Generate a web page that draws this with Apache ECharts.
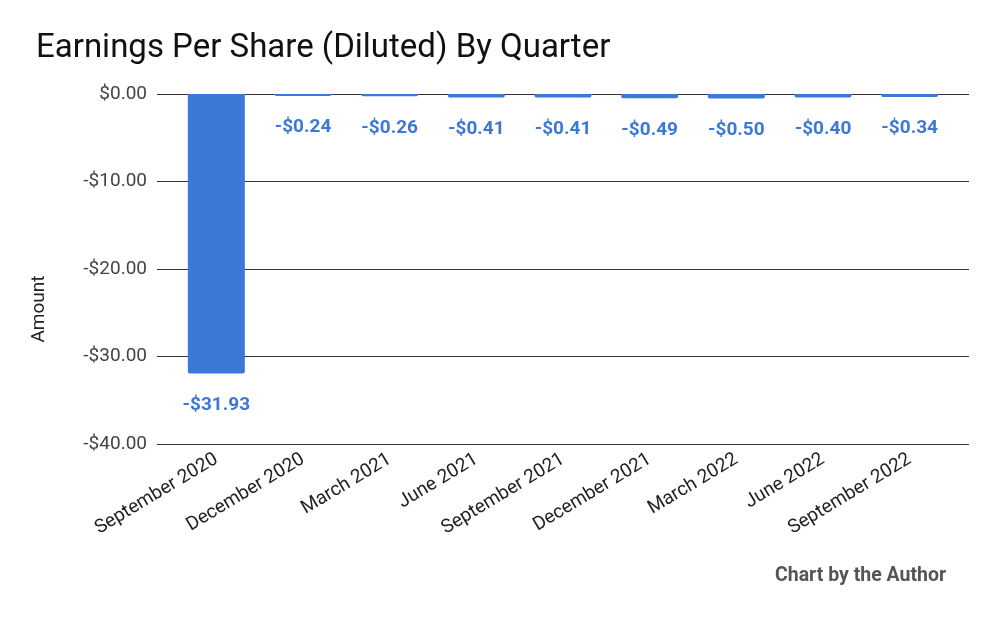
<!DOCTYPE html>
<html>
<head>
<meta charset="utf-8">
<script src="https://cdn.jsdelivr.net/npm/echarts@6/dist/echarts.min.js"></script>
<style>
  html, body { margin: 0; padding: 0; background: #fff; }
  #chart { width: 1000px; height: 618px; }
</style>
</head>
<body>
<div id="chart"></div>
<script>
const quarters = [
  "September 2020", "December 2020", "March 2021", "June 2021",
  "September 2021", "December 2021", "March 2022", "June 2022", "September 2022"
];
const eps = [-31.93, -0.24, -0.26, -0.41, -0.41, -0.49, -0.50, -0.40, -0.34];

// money formatter, -$x.xx style
const fmtMoney = (v) => (v < 0 ? "-$" : "$") + Math.abs(v).toFixed(2);

const chart = echarts.init(document.getElementById("chart"));

// grid 0 carries the gridlines + y labels (a bit wider than the bars),
// grid 1 carries the bars and category labels
const option = {
  animation: false,
  textStyle: { fontFamily: "Roboto" },
  title: {
    text: "Earnings Per Share (Diluted) By Quarter",
    left: 31,
    top: 27,
    textStyle: { fontFamily: "Roboto", fontSize: 33, fontWeight: "normal", color: "#111" }
  },
  graphic: [
    {
      type: "text",
      left: 775,
      top: 566,
      style: { text: "Chart by the Author", font: "bold 19.5px Roboto", fill: "#555" }
    },
    {
      type: "text",
      x: 30,
      y: 309,
      rotation: Math.PI / 2,
      style: { text: "Amount", font: "19px Roboto", fill: "#222", align: "center", verticalAlign: "top" }
    }
  ],
  grid: [
    { left: 157, right: 31, top: 94, bottom: 174 },
    { left: 173, right: 47, top: 94, bottom: 174 }
  ],
  xAxis: [
    { type: "category", gridIndex: 0, data: quarters, show: false },
    {
      type: "category",
      gridIndex: 1,
      data: quarters,
      axisLine: { show: false },
      axisTick: { show: false },
      axisLabel: { rotate: 31, fontSize: 19, color: "#222", margin: 14, interval: 0 }
    }
  ],
  yAxis: [
    {
      type: "value",
      gridIndex: 0,
      min: -40,
      max: 0,
      interval: 10,
      axisLine: { show: false },
      axisTick: { show: false },
      axisLabel: { formatter: fmtMoney, fontSize: 19, color: "#444", margin: 10 },
      splitLine: { lineStyle: { color: "#333", width: 1 } }
    },
    {
      type: "value",
      gridIndex: 1,
      min: -40,
      max: 0,
      interval: 10,
      show: false,
      splitLine: { show: false }
    }
  ],
  series: [
    {
      type: "bar",
      xAxisIndex: 1,
      yAxisIndex: 1,
      data: eps,
      barWidth: 57,
      itemStyle: { color: "#3c78d8", borderRadius: [0, 0, 2, 2] },
      label: {
        show: true,
        position: "bottom",
        distance: 22,
        formatter: (p) => fmtMoney(p.value),
        fontSize: 19,
        fontWeight: "bold",
        color: "#3c78d8"
      }
    }
  ]
};

chart.setOption(option);
</script>
</body>
</html>
